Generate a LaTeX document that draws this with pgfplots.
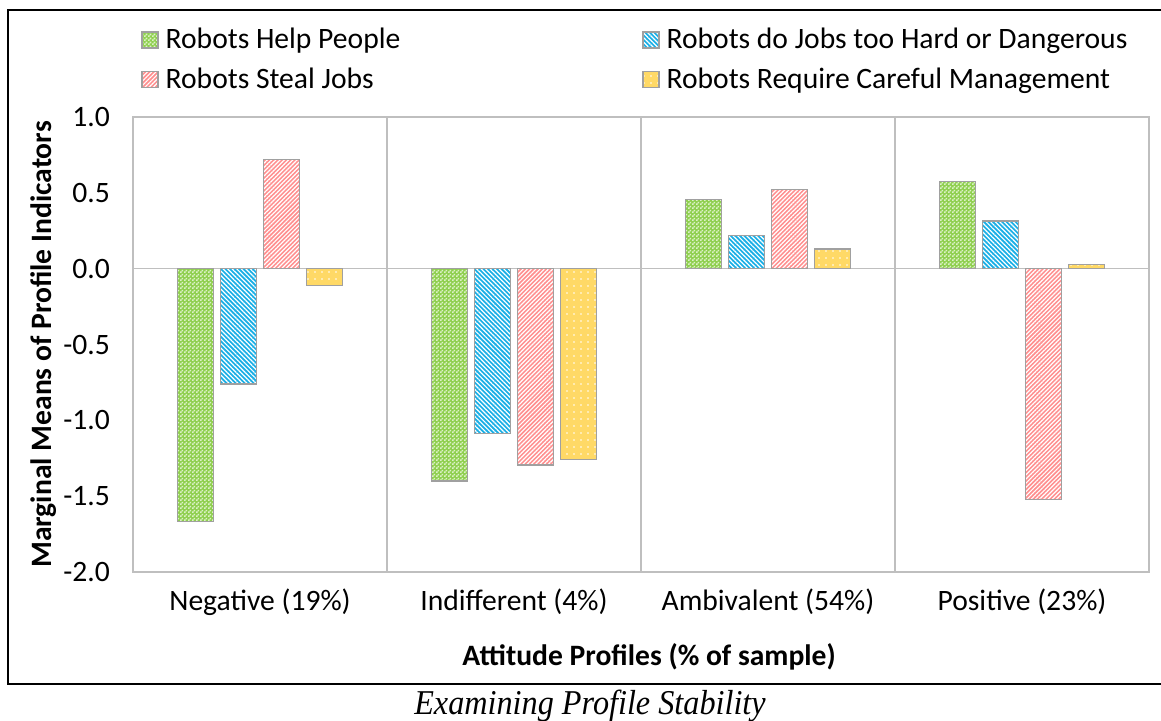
\documentclass[border=0pt]{standalone}
\usepackage{pgfplots}
\pgfplotsset{compat=1.18}
\usepackage{graphicx}
\usetikzlibrary{patterns,patterns.meta}
\usepackage{fontspec}
\setmainfont{Carlito}
\newfontfamily\capfont{Liberation Serif}
\definecolor{cgreen}{HTML}{8FCF4F}
\definecolor{cgreenlt}{HTML}{DDF1C8}
\definecolor{cblue}{HTML}{1AAFE6}
\definecolor{cred}{HTML}{FF8F8F}
\definecolor{cyellow}{HTML}{FFD966}
\definecolor{bordergray}{HTML}{A0A0A0}
\definecolor{gridgray}{HTML}{BFBFBF}

\pgfdeclarepatternformonly{smallchecker}{\pgfqpoint{0pt}{0pt}}{\pgfqpoint{2pt}{2pt}}{\pgfqpoint{2pt}{2pt}}{%
  \pgfpathrectangle{\pgfqpoint{0pt}{0pt}}{\pgfqpoint{1pt}{1pt}}%
  \pgfpathrectangle{\pgfqpoint{1pt}{1pt}}{\pgfqpoint{1pt}{1pt}}%
  \pgfusepath{fill}}

\begin{document}
\begin{tikzpicture}
\path[use as bounding box] (0pt,0pt) rectangle (580.5pt,-360pt);
\draw[black, line width=0.7pt] (580.5pt,-5pt) -- (4pt,-5pt) -- (4pt,-342pt) -- (580.5pt,-342pt);
\begin{axis}[
  at={(66.5pt,-286pt)}, anchor=south west,
  scale only axis, width=508pt, height=227.5pt,
  xmin=-0.5, xmax=3.5, ymin=-2, ymax=1,
  ybar=3.6pt, bar width=18pt,
  xtick={0,1,2,3},
  xticklabels={Negative (19\%),Indifferent (4\%),Ambivalent (54\%),Positive (23\%)},
  minor xtick={0.5,1.5,2.5},
  xminorgrids,
  minor x grid style={gridgray, line width=0.6pt},
  ytick={-2,-1.5,-1,-0.5,0,0.5,1},
  yticklabels={-2.0,-1.5,-1.0,-0.5,0.0,0.5,1.0},
  extra y ticks={0}, extra y tick labels={},
  extra y tick style={grid=major, major grid style={gridgray,line width=0.6pt}},
  major tick length=0pt, minor tick length=0pt,
  axis line style={gridgray, line width=0.6pt},
  tick label style={font=\fontsize{14.8}{17}\selectfont, black},
  yticklabel style={xshift=-8pt},
  xticklabel style={yshift=-5pt},
  xlabel={Attitude Profiles (\% of sample)},
  ylabel={Marginal Means of Profile Indicators},
  xlabel style={at={(axis description cs:0.508,-0.187)}, anchor=center, font=\fontsize{14.8}{17}\selectfont\bfseries},
  ylabel style={at={(axis description cs:-0.088,0.5)}, anchor=center, font=\fontsize{14.8}{17}\selectfont\bfseries},
  legend columns=2,
  legend cell align=left,
  legend image code/.code={\draw[#1] (0pt,-4pt) rectangle (8pt,4pt); \path (9.5pt,0pt);},
  legend style={at={(axis description cs:0.0079,1.205)}, anchor=north west, draw=none, fill=none,
    font=\fontsize{14.8}{17}\selectfont, row sep=4pt, inner sep=0pt,
    /tikz/every even column/.append style={column sep=119pt}},
]
\addplot[draw=bordergray, line width=0.6pt, preaction={fill=cgreen}, pattern=smallchecker, pattern color=cgreenlt]
  coordinates {(0,-1.667) (1,-1.40) (2,0.455) (3,0.577)};
\addplot[draw=bordergray, line width=0.6pt, preaction={fill=cblue}, pattern={Lines[angle=-45,distance=1.6pt,line width=0.6pt]}, pattern color=white]
  coordinates {(0,-0.76) (1,-1.087) (2,0.217) (3,0.315)};
\addplot[draw=bordergray, line width=0.6pt, preaction={fill=cred}, pattern={Lines[angle=45,distance=1.5pt,line width=0.6pt]}, pattern color=white]
  coordinates {(0,0.72) (1,-1.295) (2,0.522) (3,-1.52)};
\addplot[draw=bordergray, line width=0.6pt, preaction={fill=cyellow}, pattern={Dots[radius=0.45pt,distance=3.5pt]}, pattern color=white]
  coordinates {(0,-0.11) (1,-1.26) (2,0.13) (3,0.03)};
\legend{Robots Help People, Robots do Jobs too Hard or Dangerous, Robots Steal Jobs, Robots Require Careful Management}
\end{axis}
\node[font=\capfont\itshape\fontsize{17.4}{20}\selectfont] at (295pt,-353pt) {\scalebox{0.926}[1]{Examining Profile Stability}};
\end{tikzpicture}
\end{document}
